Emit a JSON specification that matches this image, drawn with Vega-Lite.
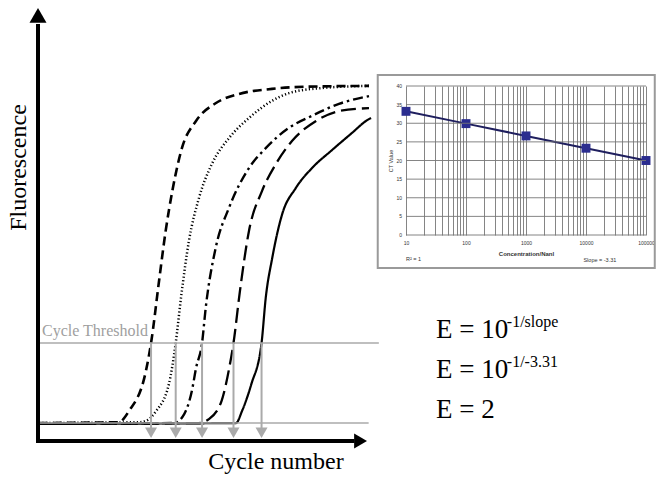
{
  "$schema": "https://vega.github.io/schema/vega-lite/v6.json",
  "background": "white",
  "padding": {"left": 6, "top": 7, "right": 1, "bottom": 2},
  "bounds": "flush",
  "spacing": 28,
  "config": {"view": {"stroke": null}, "font": "Liberation Serif"},
  "hconcat": [
    {
      "width": 340,
      "height": 433,
      "data": {"values": [{}]},
      "layer": [
        {
          "data": {"values": [
            {"s": "A", "c": 0.1, "f": 4.2}, {"s": "A", "c": 9.5, "f": 4.4}, {"s": "A", "c": 10.7, "f": 7.0}, {"s": "A", "c": 12.7, "f": 16.4}, {"s": "A", "c": 13.3, "f": 22.9}, {"s": "A", "c": 14.24, "f": 37.4}, {"s": "A", "c": 15.02, "f": 49.1}, {"s": "A", "c": 15.8, "f": 58.4}, {"s": "A", "c": 16.94, "f": 68.5}, {"s": "A", "c": 18.59, "f": 74.8}, {"s": "A", "c": 20.94, "f": 79.0}, {"s": "A", "c": 23.65, "f": 81.1}, {"s": "A", "c": 27.53, "f": 82.3}, {"s": "A", "c": 31.53, "f": 82.8}, {"s": "A", "c": 38.94, "f": 83.0},
            {"s": "B", "c": 0.1, "f": 4.2}, {"s": "B", "c": 11.9, "f": 4.4}, {"s": "B", "c": 12.7, "f": 4.7}, {"s": "B", "c": 13.9, "f": 7.0}, {"s": "B", "c": 15.4, "f": 13.3}, {"s": "B", "c": 16.2, "f": 22.9}, {"s": "B", "c": 16.82, "f": 33.4}, {"s": "B", "c": 17.76, "f": 46.8}, {"s": "B", "c": 18.94, "f": 56.8}, {"s": "B", "c": 20.47, "f": 64.8}, {"s": "B", "c": 22.47, "f": 70.8}, {"s": "B", "c": 24.82, "f": 75.5}, {"s": "B", "c": 27.53, "f": 79.5}, {"s": "B", "c": 29.53, "f": 81.3}, {"s": "B", "c": 33.41, "f": 82.5}, {"s": "B", "c": 38.94, "f": 83.0},
            {"s": "C", "c": 0.1, "f": 4.0}, {"s": "C", "c": 16.0, "f": 4.2}, {"s": "C", "c": 17.2, "f": 6.3}, {"s": "C", "c": 18.1, "f": 11.7}, {"s": "C", "c": 18.6, "f": 17.1}, {"s": "C", "c": 19.3, "f": 22.9}, {"s": "C", "c": 19.73, "f": 31.1}, {"s": "C", "c": 20.9, "f": 45.1}, {"s": "C", "c": 22.47, "f": 54.5}, {"s": "C", "c": 24.82, "f": 63.8}, {"s": "C", "c": 26.82, "f": 68.5}, {"s": "C", "c": 29.53, "f": 73.2}, {"s": "C", "c": 32.24, "f": 76.0}, {"s": "C", "c": 35.41, "f": 78.8}, {"s": "C", "c": 38.94, "f": 80.6},
            {"s": "D", "c": 0.1, "f": 4.0}, {"s": "D", "c": 18.9, "f": 4.2}, {"s": "D", "c": 20.1, "f": 5.1}, {"s": "D", "c": 21.6, "f": 9.4}, {"s": "D", "c": 22.5, "f": 17.1}, {"s": "D", "c": 23.0, "f": 22.9}, {"s": "D", "c": 23.76, "f": 35.1}, {"s": "D", "c": 24.82, "f": 49.1}, {"s": "D", "c": 26.35, "f": 58.4}, {"s": "D", "c": 28.0, "f": 64.8}, {"s": "D", "c": 29.88, "f": 70.1}, {"s": "D", "c": 32.71, "f": 74.8}, {"s": "D", "c": 35.41, "f": 77.1}, {"s": "D", "c": 38.94, "f": 77.8},
            {"s": "E", "c": 0.1, "f": 4.0}, {"s": "E", "c": 23.3, "f": 4.2}, {"s": "E", "c": 24.0, "f": 7.0}, {"s": "E", "c": 25.1, "f": 13.3}, {"s": "E", "c": 26.3, "f": 22.9}, {"s": "E", "c": 26.79, "f": 33.4}, {"s": "E", "c": 27.56, "f": 42.8}, {"s": "E", "c": 28.74, "f": 53.1}, {"s": "E", "c": 30.32, "f": 59.1}, {"s": "E", "c": 32.24, "f": 63.8}, {"s": "E", "c": 34.59, "f": 68.0}, {"s": "E", "c": 36.94, "f": 72.0}, {"s": "E", "c": 38.59, "f": 74.8}, {"s": "E", "c": 39.18, "f": 75.5}
          ]},
          "mark": {"type": "line", "interpolate": "monotone", "color": "black", "strokeCap": "butt"},
          "encoding": {
            "x": {"field": "c", "type": "quantitative", "scale": {"domain": [0, 40], "nice": false, "zero": false}, "axis": {"title": "Cycle number", "domain": false, "ticks": false, "labels": false, "grid": false, "titleFont": "Liberation Serif", "titleFontSize": 24, "titleFontWeight": "normal", "titleColor": "black", "titleX": 237.5, "titleY": 27, "titleBaseline": "alphabetic", "titleAlign": "center", "titleAngle": 0}},
            "y": {"field": "f", "type": "quantitative", "scale": {"domain": [0, 101.2], "nice": false, "zero": false}, "axis": {"title": "Fluorescence", "domain": false, "ticks": false, "labels": false, "grid": false, "titleFont": "Liberation Serif", "titleFontSize": 24, "titleFontWeight": "normal", "titleColor": "black", "titleX": -13, "titleY": 159, "titleAngle": -90, "titleAlign": "center", "titleBaseline": "alphabetic"}},
            "strokeDash": {"field": "s", "type": "nominal", "scale": {"domain": ["A", "B", "C", "D", "E"], "range": [[9, 5], [1.2, 2.3], [10, 4, 2.5, 4], [15, 6], [1, 0]]}, "legend": null},
            "strokeWidth": {"field": "s", "type": "ordinal", "scale": {"domain": ["A", "B", "C", "D", "E"], "range": [2.6, 2.2, 2.6, 2.6, 1.1]}, "legend": null}
          }
        },
        {
          "mark": {"type": "rule", "color": "#aaaaaa", "strokeWidth": 1.5},
          "encoding": {
            "x": {"datum": 0, "type": "quantitative"},
            "x2": {"datum": 40.1},
            "y": {"datum": 22.9, "type": "quantitative"}
          }
        },
        {
          "mark": {"type": "rule", "color": "#aaaaaa", "strokeWidth": 1.5},
          "encoding": {
            "x": {"datum": 0, "type": "quantitative"},
            "x2": {"datum": 38.9},
            "y": {"datum": 4.2, "type": "quantitative"}
          }
        },
        {
          "data": {"values": [{"c": 13.3}, {"c": 16.2}, {"c": 19.3}, {"c": 23.0}, {"c": 26.3}]},
          "mark": {"type": "rule", "color": "#aaaaaa", "strokeWidth": 2},
          "encoding": {
            "x": {"field": "c", "type": "quantitative"},
            "y": {"datum": 22.9, "type": "quantitative"},
            "y2": {"datum": 3.0}
          }
        },
        {
          "data": {"values": [{"c": 13.3}, {"c": 16.2}, {"c": 19.3}, {"c": 23.0}, {"c": 26.3}]},
          "mark": {"type": "point", "shape": "triangle-down", "filled": true, "color": "#aaaaaa", "opacity": 1, "size": 144},
          "encoding": {
            "x": {"field": "c", "type": "quantitative"},
            "y": {"datum": 1.92, "type": "quantitative"}
          }
        },
        {
          "mark": {"type": "rule", "color": "black", "strokeWidth": 4, "strokeCap": "square"},
          "encoding": {
            "x": {"datum": 0, "type": "quantitative"},
            "y": {"datum": 0, "type": "quantitative"},
            "y2": {"datum": 97}
          }
        },
        {
          "mark": {"type": "rule", "color": "black", "strokeWidth": 4, "strokeCap": "square"},
          "encoding": {
            "x": {"datum": 0, "type": "quantitative"},
            "x2": {"datum": 37},
            "y": {"datum": 0, "type": "quantitative"}
          }
        },
        {
          "mark": {"type": "point", "shape": "triangle-up", "filled": true, "color": "black", "opacity": 1, "size": 289},
          "encoding": {
            "x": {"datum": 0, "type": "quantitative"},
            "y": {"datum": 99.5, "type": "quantitative"}
          }
        },
        {
          "mark": {"type": "point", "shape": "triangle-right", "filled": true, "color": "black", "opacity": 1, "size": 220},
          "encoding": {
            "x": {"datum": 37.95, "type": "quantitative"},
            "y": {"datum": 0, "type": "quantitative"}
          }
        },
        {
          "mark": {"type": "text", "align": "left", "baseline": "alphabetic", "font": "Liberation Serif", "fontSize": 16, "color": "#a0a0a0"},
          "encoding": {
            "x": {"datum": 0.47, "type": "quantitative"},
            "y": {"datum": 24.5, "type": "quantitative"},
            "text": {"value": "Cycle Threshold"}
          }
        }
      ]
    },
    {
      "bounds": "flush",
      "spacing": 0,
      "vconcat": [
        {
          "width": 240,
          "height": 78,
          "data": {"values": [{}]},
          "mark": {"type": "point", "opacity": 0}
        },
        {
          "width": 240,
          "height": 149,
          "data": {"values": [{}]},
          "resolve": {"axis": {"x": "independent", "y": "independent"}},
          "layer": [
            {
              "data": {"values": [
                {"conc": 10, "ct": 33.2},
                {"conc": 100, "ct": 29.9},
                {"conc": 1000, "ct": 26.6},
                {"conc": 10000, "ct": 23.3},
                {"conc": 100000, "ct": 20.0}
              ]},
              "encoding": {
                "x": {"field": "conc", "type": "quantitative", "scale": {"type": "log", "domain": [10, 100000], "nice": false}, "axis": {"values": [10, 20, 30, 40, 50, 60, 70, 80, 90, 100, 200, 300, 400, 500, 600, 700, 800, 900, 1000, 2000, 3000, 4000, 5000, 6000, 7000, 8000, 9000, 10000, 20000, 30000, 40000, 50000, 60000, 70000, 80000, 90000, 100000], "format": "d", "labelExpr": "indexof([10,100,1000,10000,100000], datum.value) >= 0 ? datum.label : ''", "grid": true, "gridColor": "#777777", "gridWidth": 0.9, "ticks": false, "domain": false, "labelOverlap": false, "labelFlush": false, "labelFont": "Liberation Sans", "labelFontSize": 5, "labelColor": "#333333", "labelPadding": 5, "title": "Concentration/Nanl", "titleFont": "Liberation Sans", "titleFontSize": 6, "titleFontWeight": "bold", "titleColor": "#333333", "titlePadding": 5}},
                "y": {"field": "ct", "type": "quantitative", "scale": {"domain": [0, 40], "nice": false}, "axis": {"labels": false, "grid": false, "ticks": false, "domain": false, "title": "CT Value", "titleFont": "Liberation Sans", "titleFontSize": 5.5, "titleFontWeight": "normal", "titleColor": "#333333", "titlePadding": 13}}
              },
              "layer": [
                {"mark": {"type": "line", "color": "#1f1f5e", "strokeWidth": 2}},
                {"mark": {"type": "point", "shape": "square", "filled": true, "color": "#2b2d8f", "opacity": 1, "size": 80}}
              ]
            },
            {
              "data": {"values": [{"ct": 0}, {"ct": 5}, {"ct": 10}, {"ct": 15}, {"ct": 20}, {"ct": 25}, {"ct": 30}, {"ct": 35}, {"ct": 40}]},
              "mark": {"type": "rule", "color": "#777777", "strokeWidth": 0.9},
              "encoding": {
                "x": {"datum": 10, "type": "quantitative", "axis": null},
                "x2": {"datum": 100000},
                "y": {"field": "ct", "type": "quantitative", "axis": null}
              }
            },
            {
              "data": {"values": [{"ct": 0}, {"ct": 5}, {"ct": 10}, {"ct": 15}, {"ct": 20}, {"ct": 25}, {"ct": 30}, {"ct": 35}, {"ct": 40}]},
              "mark": {"type": "text", "align": "right", "baseline": "middle", "dx": -4, "font": "Liberation Sans", "fontSize": 5, "color": "#333333"},
              "encoding": {
                "x": {"datum": 10, "type": "quantitative", "axis": null},
                "y": {"field": "ct", "type": "quantitative", "axis": null},
                "text": {"field": "ct", "type": "quantitative"}
              }
            },
            {
              "mark": {"type": "rect", "fillOpacity": 0, "stroke": "#9a9a9a", "strokeWidth": 2},
              "encoding": {
                "x": {"datum": 3.38, "type": "quantitative", "axis": null},
                "x2": {"datum": 140000},
                "y": {"datum": 42.95, "type": "quantitative", "axis": null},
                "y2": {"datum": -8.86}
              }
            },
            {
              "data": {"values": [
                {"note": "R² = 1", "conc": 10, "ct": -6.4},
                {"note": "Slope = -3.31", "conc": 9060, "ct": -6.7}
              ]},
              "mark": {"type": "text", "align": "left", "baseline": "middle", "font": "Liberation Sans", "fontSize": 5.5, "color": "#333333"},
              "encoding": {
                "x": {"field": "conc", "type": "quantitative", "axis": null},
                "y": {"field": "ct", "type": "quantitative", "axis": null},
                "text": {"field": "note"}
              }
            }
          ]
        },
        {
          "width": 240,
          "height": 83,
          "data": {"values": [{}]},
          "mark": {"type": "point", "opacity": 0}
        },
        {
          "width": 240,
          "height": 120,
          "data": {"values": [
            {"line": 1, "base": "E = 10", "sup": "-1/slope"},
            {"line": 2, "base": "E = 10", "sup": "-1/-3.31"},
            {"line": 3, "base": "E = 2", "sup": ""}
          ]},
          "encoding": {
            "y": {"field": "line", "type": "ordinal", "axis": null, "scale": {"type": "point", "padding": 0.5}}
          },
          "layer": [
            {
              "mark": {"type": "text", "align": "left", "baseline": "alphabetic", "font": "Liberation Serif", "fontSize": 27, "color": "black"},
              "encoding": {
                "x": {"datum": 1.25, "type": "quantitative", "scale": {"domain": [0, 10], "nice": false, "zero": false}, "axis": null},
                "text": {"field": "base"}
              }
            },
            {
              "mark": {"type": "text", "align": "left", "baseline": "alphabetic", "font": "Liberation Serif", "fontSize": 16, "dy": -11, "color": "black"},
              "encoding": {
                "x": {"datum": 4.2, "type": "quantitative", "axis": null},
                "text": {"field": "sup"}
              }
            }
          ]
        }
      ]
    }
  ]
}
